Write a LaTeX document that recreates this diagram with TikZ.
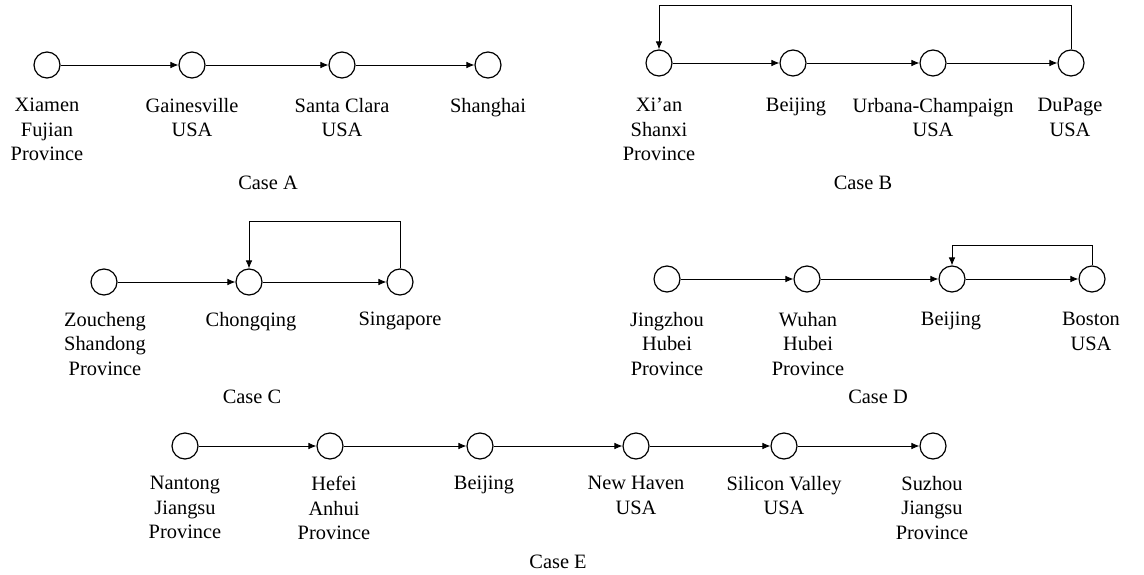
\documentclass[tikz,border=0pt]{standalone}
\usepackage{fontspec}
\setmainfont{Liberation Serif}
\usepackage{tikz}
\usetikzlibrary{arrows.meta}

\tikzset{
  city/.style={draw, circle, line width=0.9pt, minimum size=19.5pt, inner sep=0pt},
  place/.style={anchor=north, align=center, inner sep=0pt, font=\fontsize{15.3}{18.4}\selectfont},
  caselbl/.style={anchor=base, inner sep=0pt, font=\fontsize{15.3}{18.4}\selectfont},
  move/.style={line width=0.65pt, -{Latex[length=6pt,width=5pt]}},
}

\begin{document}
\begin{tikzpicture}[x=0.75pt,y=0.75pt,yscale=-1,xscale=1]
\useasboundingbox (0,0) rectangle (1144,574);

%Case A
\node [city] (xiamen) at (47,65) {};
\node [city] (gainesville) at (192,65) {};
\node [city] (santaclara) at (342,65) {};
\node [city] (shanghai) at (488,65) {};
\draw [move] (xiamen) -- (gainesville);
\draw [move] (gainesville) -- (santaclara);
\draw [move] (santaclara) -- (shanghai);
% Text Node
\node [place] (xiamenlbl) at (47,98) {Xiamen\\Fujian\\Province};
\node [place] (gainesvillelbl) at (192,98) {Gainesville\\USA};
\node [place] (santaclaralbl) at (342,98) {Santa Clara\\USA};
\node [place] (shanghailbl) at (488,98) {Shanghai};
\node [caselbl] (casea) at (268,189) {Case A};

%Case B
\node [city] (xian) at (659,63) {};
\node [city] (beijingb) at (793,63) {};
\node [city] (urbana) at (933,63) {};
\node [city] (dupage) at (1071,63) {};
\draw [move] (xian) -- (beijingb);
\draw [move] (beijingb) -- (urbana);
\draw [move] (urbana) -- (dupage);
\draw [move] (dupage.north) -- ++(0,-44) -| (xian.north);
% Text Node
\node [place] (xianlbl) at (659,98) {Xi’an\\Shanxi\\Province};
\node [place] (beijingblbl) at (796,98) {Beijing};
\node [place] (urbanalbl) at (933,98) {Urbana-Champaign\\USA};
\node [place] (dupagelbl) at (1070,98) {DuPage\\USA};
\node [caselbl] (caseb) at (863,189) {Case B};

%Case C
\node [city] (zoucheng) at (104,282) {};
\node [city] (chongqing) at (249,282) {};
\node [city] (singapore) at (400,282) {};
\draw [move] (zoucheng) -- (chongqing);
\draw [move] (chongqing) -- (singapore);
\draw [move] (singapore.north) -- ++(0,-47) -| (chongqing.north);
% Text Node
\node [place] (zouchenglbl) at (105,312) {Zoucheng\\Shandong\\Province};
\node [place] (chongqinglbl) at (251,312) {Chongqing};
\node [place] (singaporelbl) at (400,312) {Singapore};
\node [caselbl] (casec) at (252,403) {Case C};

%Case D
\node [city] (jingzhou) at (667,279) {};
\node [city] (wuhan) at (807,279) {};
\node [city] (beijingd) at (952,279) {};
\node [city] (boston) at (1092,279) {};
\draw [move] (jingzhou) -- (wuhan);
\draw [move] (wuhan) -- (beijingd);
\draw [move] (beijingd) -- (boston);
\draw [move] (boston.north) -- ++(0,-20) -| (beijingd.north);
% Text Node
\node [place] (jingzhoulbl) at (667,312) {Jingzhou\\Hubei\\Province};
\node [place] (wuhanlbl) at (808,312) {Wuhan\\Hubei\\Province};
\node [place] (beijingdlbl) at (951,312) {Beijing};
\node [place] (bostonlbl) at (1091,312) {Boston\\USA};
\node [caselbl] (cased) at (878,403) {Case D};

%Case E
\node [city] (nantong) at (185,446) {};
\node [city] (hefei) at (330,446) {};
\node [city] (beijinge) at (480,446) {};
\node [city] (newhaven) at (636,446) {};
\node [city] (silicon) at (784,446) {};
\node [city] (suzhou) at (933,446) {};
\draw [move] (nantong) -- (hefei);
\draw [move] (hefei) -- (beijinge);
\draw [move] (beijinge) -- (newhaven);
\draw [move] (newhaven) -- (silicon);
\draw [move] (silicon) -- (suzhou);
% Text Node
\node [place] (nantonglbl) at (185,476) {Nantong\\Jiangsu\\Province};
\node [place] (hefeilbl) at (334,476) {Hefei\\Anhui\\Province};
\node [place] (beijingelbl) at (484,476) {Beijing};
\node [place] (newhavenlbl) at (636,476) {New Haven\\USA};
\node [place] (siliconlbl) at (784,476) {Silicon Valley\\USA};
\node [place] (suzhoulbl) at (932,476) {Suzhou\\Jiangsu\\Province};
\node [caselbl] (casee) at (558,568) {Case E};

\end{tikzpicture}
\end{document}
